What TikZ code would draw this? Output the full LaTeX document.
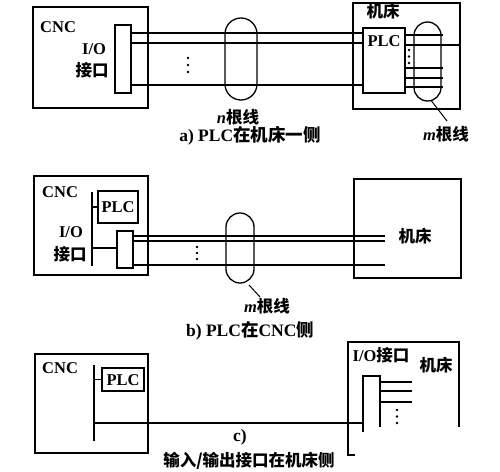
\documentclass[tikz,border=0pt]{standalone}
\usepackage{fontspec}
\setmainfont{Liberation Serif}
\newfontfamily\cjk{Noto Sans CJK SC}
\begin{document}
\begin{tikzpicture}[x=1pt,y=-1pt]
\tikzset{
  frame/.style={draw, line width=1.4pt, inner sep=0pt, outer sep=0pt, anchor=north west},
  wire/.style={line width=1.3pt},
  bundle/.style={draw, line width=1.3pt, rounded corners=#1, inner sep=0pt, outer sep=0pt, anchor=north west},
  lbl/.style={font=\fontsize{16.5}{18}\selectfont\bfseries, inner sep=0pt},
  captext/.style={font=\fontsize{17.5}{19}\selectfont\bfseries, inner sep=0pt},
}
\useasboundingbox (0,0) rectangle (500,471);

% ================= (a) =================
\node[frame, minimum width=115pt, minimum height=101pt] (cncA) at (33,7) {};
\node[frame, minimum width=107pt, minimum height=106pt] (mA) at (353,3) {};
\node[frame, minimum width=16pt, minimum height=68pt] (ioA) at (115,25) {};
\node[frame, minimum width=42pt, minimum height=65pt] (plcA) at (363,28) {};
\node[lbl, anchor=west] (cncAt) at (40,27) {CNC};
\node[lbl] (ioAt) at (94,49) {I/O};
\node[lbl] (ioAt2) at (92,70) {\cjk 接口};
\node[lbl] (mAt) at (383,11) {\cjk 机床};
\node[lbl] (plcAt) at (384,41) {PLC};
% n wires
\foreach \yy in {33,43,85}
  \draw[wire] (ioA.east |- 0,\yy) -- (plcA.west |- 0,\yy);
\fill (188,58) circle (1.4) (188,65) circle (1.4) (188,72) circle (1.4);
\node[bundle=16pt, minimum width=32pt, minimum height=82pt] (nA) at (225,18) {};
\node[lbl] (nAt) at (238,117) {\textit{n}\cjk 根线};
% m wires
\coordinate (mAend) at (443,0);
\draw[wire] (plcA.east |- 0,35) -- (mAend |- 0,35);
\draw[wire] (plcA.east |- 0,45) -- (mA.east |- 0,45);
\foreach \yy in {68,78,87}
  \draw[wire] (plcA.east |- 0,\yy) -- (mAend |- 0,\yy);
\fill (409,50) circle (1.4) (409,56.5) circle (1.4) (409,63) circle (1.4);
\node[bundle=13.5pt, minimum width=27pt, minimum height=79pt] (mbA) at (414,22) {};
\node[lbl] (mbAt) at (446,134) {\textit{m}\cjk 根线};
\draw[line width=1pt] (mbA.south) ++(4,0) coordinate (lA) (lA) -- (447,121);
\node[captext] (capA) at (250,136) {a) PLC{\cjk 在机床一侧}};

% ================= (b) =================
\node[frame, minimum width=114pt, minimum height=99pt] (cncB) at (34,176) {};
\node[frame, minimum width=107pt, minimum height=99pt] (mB) at (354,179) {};
\node[frame, minimum width=40pt, minimum height=32pt] (plcB) at (98,191) {};
\node[frame, minimum width=16pt, minimum height=37pt] (ioB) at (117,231) {};
\coordinate (busBt) at (92,192);
\coordinate (busBb) at (92,266);
\draw[wire] (busBt) -- (busBb);
\draw[wire] (busBt |- plcB.west) -- (plcB.west);
\draw[wire] (busBt |- 0,248) -- (ioB.west |- 0,248);
\node[lbl, anchor=west] (cncBt) at (42,192) {CNC};
\node[lbl] (plcBt) at (118,207) {PLC};
\node[lbl] (ioBt) at (71,232) {I/O};
\node[lbl] (ioBt2) at (70,254) {\cjk 接口};
\node[lbl] (mBt) at (415,236) {\cjk 机床};
\coordinate (bEnd) at (385,0);
\foreach \yy in {236,241,265}
  \draw[wire] (ioB.east |- 0,\yy) -- (bEnd |- 0,\yy);
\fill (197,247) circle (1.4) (197,253) circle (1.4) (197,259) circle (1.4);
\node[bundle=14pt, minimum width=28pt, minimum height=70pt] (nB) at (226,213) {};
\node[lbl] (nBt) at (267,306) {\textit{m}\cjk 根线};
\draw[line width=1pt] (249,285) -- (260,297);
\node[captext] (capB) at (250,331) {b) PLC{\cjk 在}CNC{\cjk 侧}};

% ================= (c) =================
\node[frame, minimum width=113pt, minimum height=99pt] (cncC) at (35,354) {};
\node[frame, minimum width=42pt, minimum height=23pt] (plcC) at (102,368) {};
\coordinate (busCt) at (94,365);
\coordinate (busCb) at (94,441);
\draw[wire] (busCt) -- (busCb);
\draw[wire] (busCt |- plcC.west) -- (plcC.west);
\node[lbl, anchor=west] (cncCt) at (42,368) {CNC};
\node[lbl] (plcCt) at (123,380) {PLC};
% machine (partly hidden)
\coordinate (mCtl) at (348,342);
\coordinate (mCtr) at (459,342);
\draw[line width=1.4pt] (459,427) -- (mCtr) -- (mCtl) -- (348,455) -- (355,455);
% I/O bar
\coordinate (ioCtl) at (363,376);
\coordinate (ioCtr) at (380,376);
\draw[wire] (380,427) -- (ioCtr) -- (ioCtl) -- (363,432);
\draw[wire] (busCt |- 0,423) -- (ioCtl |- 0,423);
\coordinate (cEnd) at (412,0);
\foreach \yy in {382,391,402}
  \draw[wire] (ioCtr |- 0,\yy) -- (cEnd |- 0,\yy);
\fill (397,410) circle (1.4) (397,416.5) circle (1.4) (397,423) circle (1.4);
\node[lbl] (ioCt) at (381,355) {I/O{\cjk 接口}};
\node[lbl] (mCt) at (436,365) {\cjk 机床};
\node[captext] (cC) at (240,437) {c)};
\node[lbl] (capC) at (249,461) {\cjk 输入/输出接口在机床侧};
\end{tikzpicture}
\end{document}
